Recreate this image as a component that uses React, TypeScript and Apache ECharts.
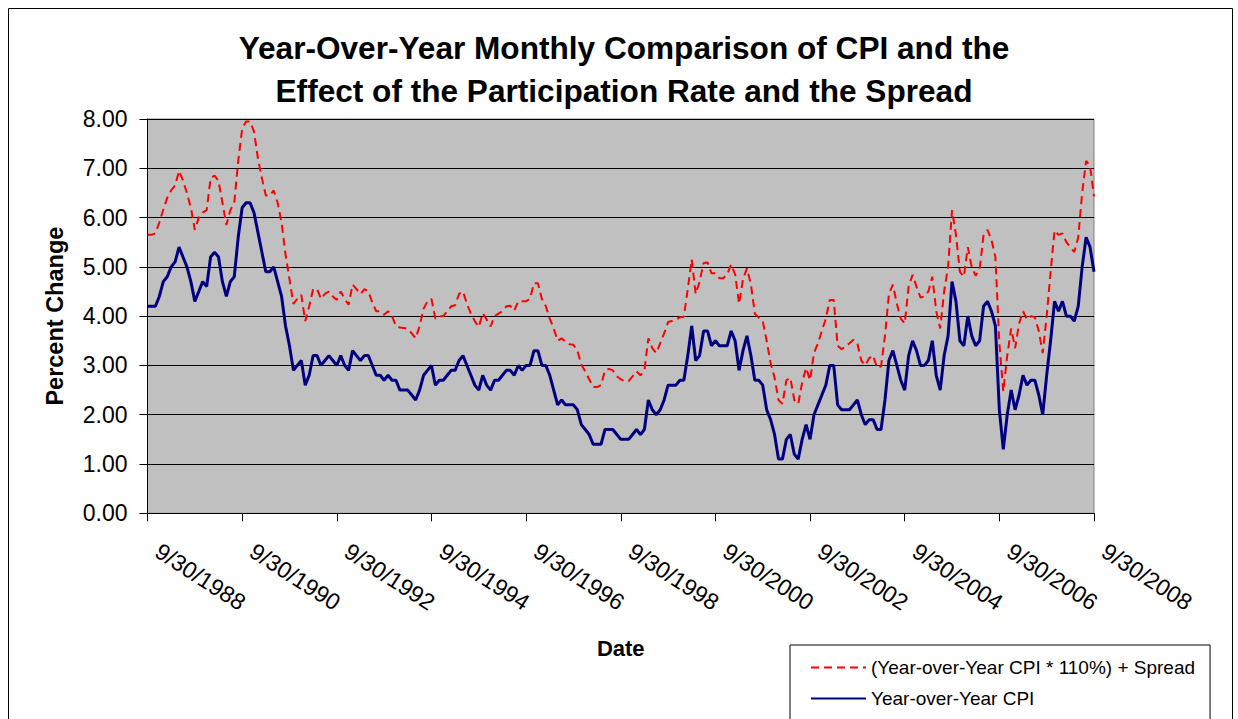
import React, { useEffect, useRef } from "react";
import * as echarts from "echarts";

const START_YEAR = 1988;
const START_MONTH = 9; // September, month-end dates

const cpi: number[] = [
  4.2, 4.2, 4.2, 4.4,
  4.7, 4.8, 5.0, 5.1, 5.4, 5.2, 5.0, 4.7, 4.3, 4.5, 4.7, 4.6,
  5.2, 5.3, 5.2, 4.7, 4.4, 4.7, 4.8, 5.6, 6.2, 6.3, 6.3, 6.1,
  5.7, 5.3, 4.9, 4.9, 5.0, 4.7, 4.4, 3.8, 3.4, 2.9, 3.0, 3.1,
  2.6, 2.8, 3.2, 3.2, 3.0, 3.1, 3.2, 3.1, 3.0, 3.2, 3.0, 2.9,
  3.3, 3.2, 3.1, 3.2, 3.2, 3.0, 2.8, 2.8, 2.7, 2.8, 2.7, 2.7,
  2.5, 2.5, 2.5, 2.4, 2.3, 2.5, 2.8, 2.9, 3.0, 2.6, 2.7, 2.7,
  2.8, 2.9, 2.9, 3.1, 3.2, 3.0, 2.8, 2.6, 2.5, 2.8, 2.6, 2.5,
  2.7, 2.7, 2.8, 2.9, 2.9, 2.8, 3.0, 2.9, 3.0, 3.0, 3.3, 3.3,
  3.0, 3.0, 2.8, 2.5, 2.2, 2.3, 2.2, 2.2, 2.2, 2.1, 1.8, 1.7,
  1.6, 1.4, 1.4, 1.4, 1.7, 1.7, 1.7, 1.6, 1.5, 1.5, 1.5, 1.6,
  1.7, 1.6, 1.7, 2.3, 2.1, 2.0, 2.1, 2.3, 2.6, 2.6, 2.6, 2.7,
  2.7, 3.2, 3.8, 3.1, 3.2, 3.7, 3.7, 3.4, 3.5, 3.4, 3.4, 3.4,
  3.7, 3.5, 2.9, 3.3, 3.6, 3.2, 2.7, 2.7, 2.6, 2.1, 1.9, 1.6,
  1.1, 1.1, 1.5, 1.6, 1.2, 1.1, 1.5, 1.8, 1.5, 2.0, 2.2, 2.4,
  2.6, 3.0, 3.0, 2.2, 2.1, 2.1, 2.1, 2.2, 2.3, 2.0, 1.8, 1.9,
  1.9, 1.7, 1.7, 2.3, 3.1, 3.3, 3.0, 2.7, 2.5, 3.2, 3.5, 3.3,
  3.0, 3.0, 3.1, 3.5, 2.8, 2.5, 3.2, 3.6, 4.7, 4.3, 3.5, 3.4,
  4.0, 3.6, 3.4, 3.5, 4.2, 4.3, 4.1, 3.8, 2.1, 1.3, 2.0, 2.5,
  2.1, 2.4, 2.8, 2.6, 2.7, 2.7, 2.4, 2.0, 2.8, 3.5, 4.3, 4.1,
  4.3, 4.0, 4.0, 3.9, 4.2, 5.0, 5.6, 5.4, 4.9,
];

const cpiPlusSpread: number[] = [
  5.65, 5.65, 5.68, 5.9,
  6.16, 6.4, 6.55, 6.65, 6.95, 6.75, 6.5, 6.2, 5.75, 6.0, 6.1, 6.15,
  6.8, 6.85, 6.75, 6.3, 5.85, 6.15, 6.3, 7.15, 7.8, 7.95, 7.95, 7.75,
  7.2, 6.8, 6.45, 6.45, 6.55, 6.3, 5.9, 5.25, 4.75, 4.25, 4.35, 4.43,
  3.9, 4.2, 4.55, 4.55, 4.35, 4.45, 4.5, 4.4, 4.33, 4.5, 4.35, 4.23,
  4.64, 4.55, 4.45, 4.55, 4.5, 4.28, 4.1, 4.1, 4.03, 4.1, 4.0, 3.8,
  3.77, 3.76, 3.74, 3.65, 3.55, 3.8, 4.15, 4.3, 4.35, 3.95, 4.0, 4.0,
  4.1, 4.2, 4.22, 4.45, 4.5, 4.25, 4.05, 3.9, 3.78, 4.06, 3.93, 3.79,
  4.0, 4.05, 4.1, 4.2, 4.21, 4.11, 4.3, 4.3, 4.3, 4.36, 4.67, 4.67,
  4.35, 4.2, 3.95, 3.75, 3.5, 3.55, 3.48, 3.43, 3.42, 3.3, 3.02, 2.88,
  2.72, 2.56, 2.56, 2.6, 2.9, 2.93, 2.9, 2.78, 2.72, 2.68, 2.68, 2.78,
  2.88, 2.8, 2.9, 3.55, 3.35, 3.25, 3.45, 3.65, 3.88, 3.9, 3.93, 3.98,
  3.99, 4.55, 5.15, 4.45, 4.7, 5.08, 5.09, 4.87, 4.87, 4.77, 4.77, 4.85,
  5.05, 4.85, 4.25, 4.75, 4.97, 4.65, 4.05, 3.97, 3.9, 3.5, 3.05, 2.75,
  2.3, 2.22, 2.7, 2.75, 2.3, 2.22, 2.65, 2.95, 2.7, 3.25, 3.45, 3.7,
  3.95, 4.33, 4.33, 3.4, 3.33, 3.38, 3.45, 3.52, 3.45, 3.1, 3.0, 3.15,
  3.2, 2.95, 2.98, 3.6, 4.45, 4.64, 4.26, 3.95, 3.85, 4.6, 4.84, 4.6,
  4.38, 4.4, 4.5, 4.8, 4.1, 3.75, 4.5, 5.0, 6.15, 5.65, 4.9, 4.8,
  5.4, 5.0, 4.82, 4.95, 5.65, 5.75, 5.55, 5.2, 3.45, 2.47, 3.2, 3.75,
  3.35, 3.85, 4.1, 3.93, 4.0, 3.98, 3.7, 3.25, 4.0, 4.9, 5.74, 5.65,
  5.68, 5.5, 5.4, 5.3, 5.6, 6.5, 7.15, 7.05, 6.43,
];

const yTicks = { min: 0, max: 8, interval: 1 };
const SERIES_RED = "(Year-over-Year CPI * 110%) + Spread";
const SERIES_BLUE = "Year-over-Year CPI";
const TITLE =
  "Year-Over-Year Monthly Comparison of CPI and the\nEffect of the Participation Rate and the Spread";

function monthEndLabels(n: number): string[] {
  const out: string[] = [];
  for (let i = 0; i < n; i++) {
    const m0 = START_MONTH - 1 + i;
    const y = START_YEAR + Math.floor(m0 / 12);
    const m = (m0 % 12) + 1;
    const d = new Date(y, m, 0).getDate();
    out.push(`${m}/${d}/${y}`);
  }
  return out;
}

const FONT = '"Liberation Sans", Arial, sans-serif';

export default function App() {
  const ref = useRef<HTMLDivElement>(null);
  useEffect(() => {
    if (!ref.current) return;
    const chart = echarts.init(ref.current, null, { renderer: "svg" });
    const dates = monthEndLabels(cpi.length);
    chart.setOption({
      animation: false,
      backgroundColor: "#ffffff",
      textStyle: { fontFamily: FONT },
      graphic: [
        {
          type: "rect",
          silent: true,
          shape: { x: 0.5, y: 0.5, width: 1224, height: 790 },
          style: { fill: "none", stroke: "#000", lineWidth: 1 },
        },
      ],
      title: {
        text: TITLE,
        left: 611,
        top: 13,
        textAlign: "center",
        textStyle: {
          fontFamily: FONT,
          fontSize: 31.6,
          fontWeight: "bold",
          color: "#000",
          lineHeight: 43,
        },
      },
      grid: {
        left: 139.5,
        top: 111,
        width: 946.5,
        height: 394.3,
        show: true,
        backgroundColor: "#C0C0C0",
        borderColor: "#808080",
        borderWidth: 1,
      },
      legend: {
        orient: "vertical",
        left: 782,
        top: 637,
        padding: [13, 15, 13, 20],
        itemWidth: 55,
        itemHeight: 14,
        itemGap: 12,
        backgroundColor: "#fff",
        borderColor: "#000",
        borderWidth: 1,
        borderRadius: 0,
        itemStyle: { opacity: 0 },
        textStyle: { fontFamily: FONT, fontSize: 19, color: "#000", lineHeight: 19 },
        data: [SERIES_RED, SERIES_BLUE],
      },
      xAxis: {
        type: "category",
        data: dates,
        boundaryGap: false,
        name: "Date",
        nameLocation: "middle",
        nameGap: 124,
        nameTextStyle: { fontFamily: FONT, fontSize: 22, fontWeight: "bold", color: "#000" },
        axisLine: { lineStyle: { color: "#000", width: 1 } },
        axisTick: { interval: 23, length: 8, lineStyle: { color: "#000" } },
        axisLabel: {
          interval: 23,
          rotate: -33,
          margin: 29,
          padding: [0, 0, 0, 12],
          fontFamily: FONT,
          fontSize: 23,
          color: "#000",
        },
        splitLine: { show: false },
      },
      yAxis: {
        type: "value",
        min: yTicks.min,
        max: yTicks.max,
        interval: yTicks.interval,
        name: "Percent Change",
        nameLocation: "middle",
        nameGap: 81,
        nameRotate: 90,
        nameTextStyle: { fontFamily: FONT, fontSize: 23.5, fontWeight: "bold", color: "#000" },
        axisLine: { show: true, lineStyle: { color: "#000", width: 1 } },
        axisTick: { show: true, length: 8, lineStyle: { color: "#000" } },
        axisLabel: {
          formatter: (v: number) => v.toFixed(2),
          fontFamily: FONT,
          fontSize: 23,
          margin: 20,
          color: "#000",
        },
        splitLine: { show: true, lineStyle: { color: "#000", width: 1 } },
      },
      series: [
        {
          name: SERIES_RED,
          type: "line",
          data: cpiPlusSpread,
          symbol: "none",
          lineStyle: { color: "#FF0000", width: 2, type: [8, 5] },
          itemStyle: { color: "#FF0000" },
        },
        {
          name: SERIES_BLUE,
          type: "line",
          data: cpi,
          symbol: "none",
          lineStyle: { color: "#000080", width: 3 },
          itemStyle: { color: "#000080" },
        },
      ],
    });
    return () => chart.dispose();
  }, []);
  return (
    <div
      style={{
        position: "absolute",
        left: 8,
        top: 8,
        width: 1225,
        height: 711,
        overflow: "hidden",
      }}
    >
      <div ref={ref} style={{ width: 1225, height: 790 }} />
    </div>
  );
}
